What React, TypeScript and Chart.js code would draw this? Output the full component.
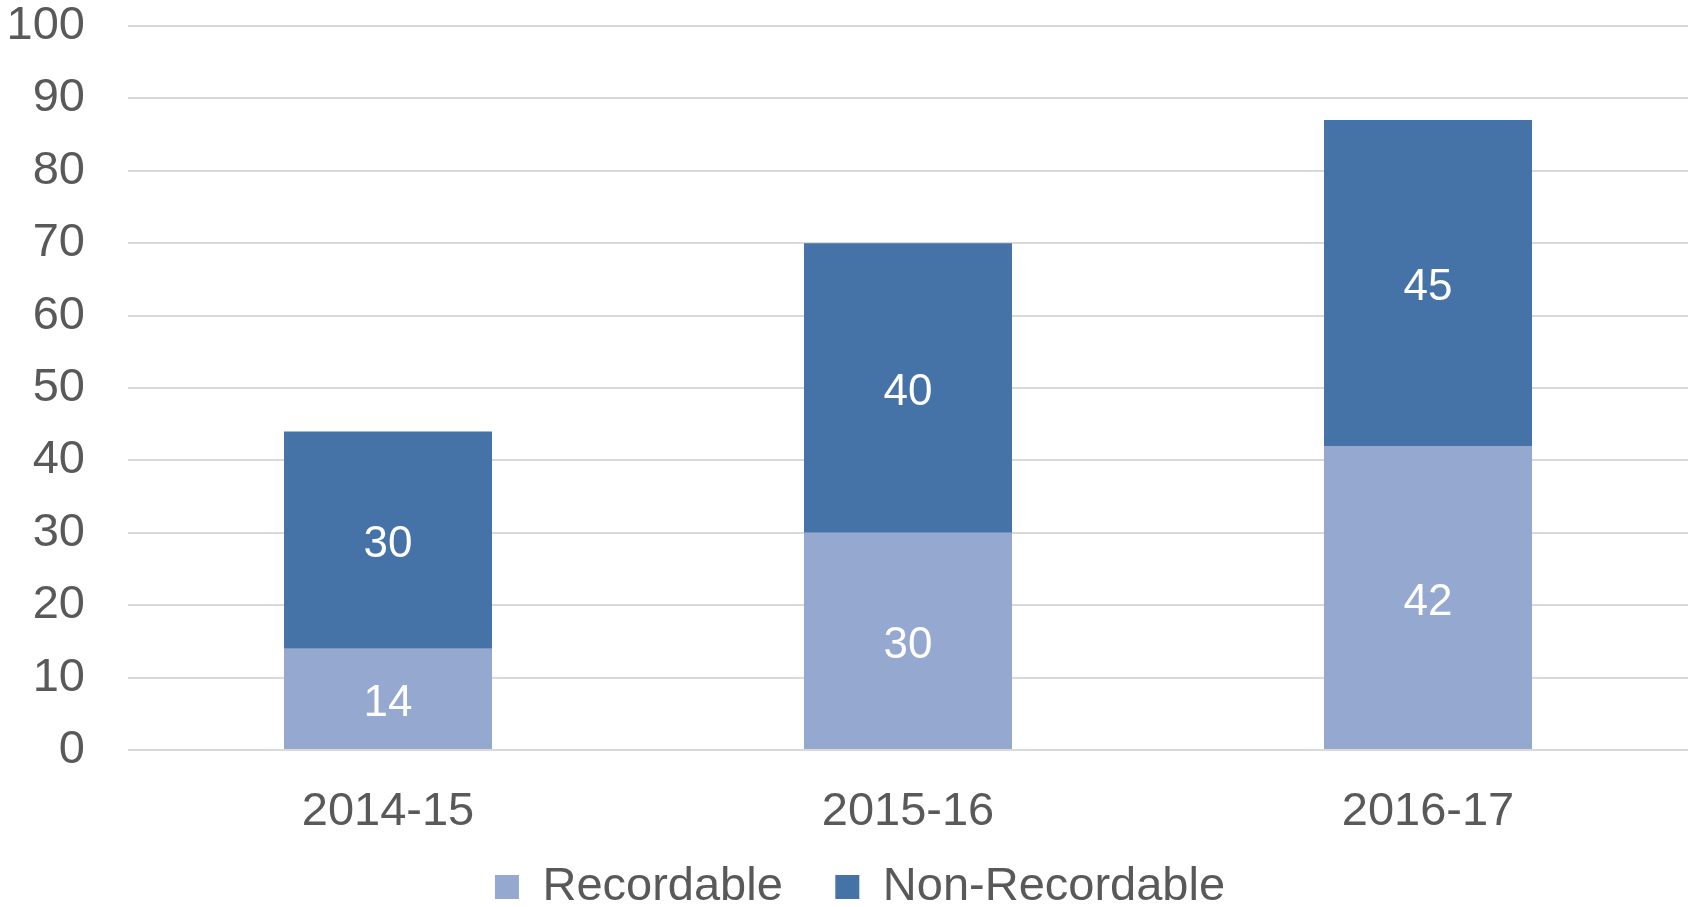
import React, { useEffect, useRef } from 'react';
import { Chart, registerables } from 'chart.js';

Chart.register(...registerables);

const categories = ['2014-15', '2015-16', '2016-17'];
const recordable = [14, 30, 42];
const nonRecordable = [30, 40, 45];
const seriesNames = ['Recordable', 'Non-Recordable'];
const seriesColors = ['#95A9D0', '#4573A7'];

const FONT = '"Liberation Sans", Arial, sans-serif';
const TEXT = '#595959';

const valueLabels = {
  id: 'valueLabels',
  afterDatasetsDraw(chart: any) {
    const ctx = chart.ctx;
    ctx.save();
    ctx.fillStyle = '#FFFFFF';
    ctx.font = `44px ${FONT}`;
    ctx.textAlign = 'center';
    ctx.textBaseline = 'middle';
    chart.data.datasets.forEach((ds: any, i: number) => {
      const meta = chart.getDatasetMeta(i);
      meta.data.forEach((bar: any, j: number) => {
        const p = bar.getProps(['x', 'y', 'base'], true);
        ctx.fillText(String(ds.data[j]), p.x, (p.y + p.base) / 2 + 5);
      });
    });
    ctx.restore();
  },
};

// nudge the legend block to where the reference places it
const legendShift = {
  id: 'legendShift',
  afterLayout(chart: any) {
    const lg = chart.legend;
    if (!lg) return;
    const dx = 16;
    const dy = -24;
    lg.left += dx;
    lg.right += dx;
    lg.top += dy;
    lg.bottom += dy;
  },
};

export default function App() {
  const ref = useRef<HTMLCanvasElement | null>(null);

  useEffect(() => {
    if (!ref.current) return;
    const chart = new Chart(ref.current, {
      type: 'bar',
      data: {
        labels: categories,
        datasets: [
          {
            label: seriesNames[0],
            data: recordable,
            backgroundColor: seriesColors[0],
            borderWidth: 0,
            categoryPercentage: 1,
            barPercentage: 0.4,
          },
          {
            label: seriesNames[1],
            data: nonRecordable,
            backgroundColor: seriesColors[1],
            borderWidth: 0,
            categoryPercentage: 1,
            barPercentage: 0.4,
          },
        ],
      },
      options: {
        animation: false,
        responsive: false,
        devicePixelRatio: 1,
        layout: { padding: { left: 0, right: 8, top: 26, bottom: -37.5 } },
        scales: {
          x: {
            stacked: true,
            grid: { display: false },
            border: { display: false },
            ticks: {
              color: TEXT,
              font: { family: FONT, size: 47 },
              padding: 26.3,
            },
            afterFit(scale: any) {
              scale.height = 85;
              scale.paddingLeft = 0;
              scale.paddingRight = 0;
            },
          },
          y: {
            stacked: true,
            min: 0,
            max: 100,
            grid: { color: '#D9D9D9', lineWidth: 2, drawTicks: false },
            border: { display: false },
            ticks: {
              stepSize: 10,
              color: TEXT,
              font: { family: FONT, size: 47, lineHeight: 1 },
              padding: 43,
            },
            afterFit(scale: any) {
              scale.width = 128;
              scale.paddingTop = 0;
              scale.paddingBottom = 0;
            },
          },
        },
        plugins: {
          legend: {
            position: 'bottom',
            labels: {
              boxWidth: 24,
              boxHeight: 24,
              padding: 52.5,
              color: TEXT,
              font: { family: FONT, size: 47 },
            },
          },
          tooltip: { enabled: false },
        },
      },
      plugins: [valueLabels, legendShift],
    });
    return () => chart.destroy();
  }, []);

  return (
    <div style={{ position: 'fixed', left: 0, top: 0, width: 1696, height: 907, background: '#fff' }}>
      <canvas ref={ref} width={1696} height={907} style={{ display: 'block' }} />
    </div>
  );
}
